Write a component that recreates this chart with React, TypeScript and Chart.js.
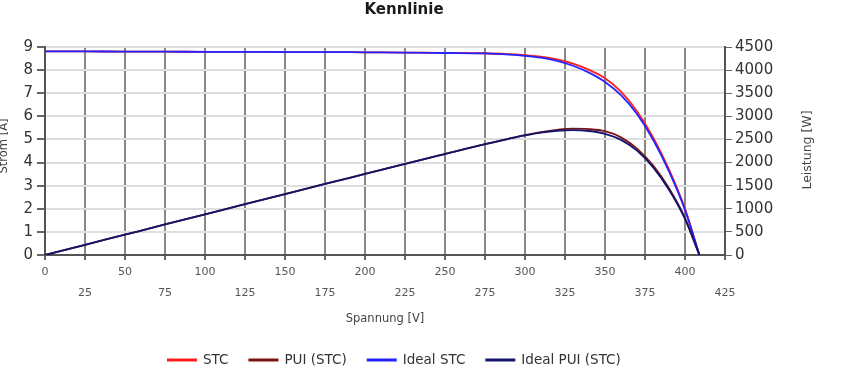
import React, { useEffect, useRef } from 'react';
import { Chart, registerables } from 'chart.js';

Chart.register(...registerables);

const TITLE = 'Kennlinie';
const X_TITLE = 'Spannung [V]';
const Y_TITLE = 'Strom [A]';
const Y1_TITLE = 'Leistung [W]';

const seriesLabels = ['STC', 'PUI (STC)', 'Ideal STC', 'Ideal PUI (STC)'];
const seriesColors = ['#ff1e1e', '#7a1414', '#2323ff', '#14146e'];

const voltages = [0, 25, 50, 75, 100, 125, 150, 175, 200, 225, 250, 275, 290, 300, 310, 320, 330, 340, 350, 360, 370, 380, 390, 400, 409];
const currentSTC = [8.81, 8.81, 8.8, 8.8, 8.79, 8.79, 8.78, 8.78, 8.77, 8.76, 8.75, 8.73, 8.69, 8.65, 8.58, 8.46, 8.28, 8.01, 7.65, 7.07, 6.22, 5.1, 3.7, 2.0, 0];
const powerSTC = [0, 220, 440, 660, 879, 1099, 1317, 1537, 1754, 1971, 2188, 2401, 2520, 2595, 2660, 2707, 2732, 2723, 2678, 2545, 2301, 1938, 1443, 800, 0];
const currentIdeal = [8.81, 8.81, 8.8, 8.8, 8.79, 8.79, 8.78, 8.78, 8.77, 8.76, 8.74, 8.72, 8.67, 8.62, 8.54, 8.4, 8.19, 7.89, 7.49, 6.92, 6.1, 5.0, 3.62, 1.95, 0];
const powerIdeal = [0, 220, 440, 660, 879, 1099, 1317, 1537, 1754, 1971, 2185, 2398, 2514, 2586, 2647, 2688, 2703, 2683, 2622, 2491, 2257, 1900, 1412, 780, 0];

const xTicks = { min: 0, max: 425, step: 25 };
const yTicks = { min: 0, max: 9, step: 1 };
const y1Ticks = { min: 0, max: 4500, step: 500 };

const FONT = '"DejaVu Sans", "Liberation Sans", sans-serif';

const toPoints = (ys: number[]) => voltages.map((v, i) => ({ x: v, y: ys[i] }));

const textPlugin = {
  id: 'customText',
  afterDraw(chart: any) {
    const ctx = chart.ctx as CanvasRenderingContext2D;
    const area = chart.chartArea;
    ctx.save();
    // title
    ctx.font = `bold 15px ${FONT}`;
    ctx.fillStyle = '#1a1a1a';
    ctx.textAlign = 'center';
    ctx.textBaseline = 'middle';
    ctx.fillText(TITLE, 404, 10);
    // x title
    ctx.font = `11.5px ${FONT}`;
    ctx.fillStyle = '#444';
    ctx.fillText(X_TITLE, (area.left + area.right) / 2, 319);
    // y title left
    ctx.save();
    ctx.translate(4, 146);
    ctx.rotate(-Math.PI / 2);
    ctx.font = `11.5px ${FONT}`;
    ctx.fillText(Y_TITLE, 0, 0);
    ctx.restore();
    // y title right
    ctx.save();
    ctx.translate(808, 150);
    ctx.rotate(-Math.PI / 2);
    ctx.font = `12.5px ${FONT}`;
    ctx.fillText(Y1_TITLE, 0, 0);
    ctx.restore();
    // legend
    ctx.font = `13.5px ${FONT}`;
    ctx.textAlign = 'left';
    let x = 167;
    const y = 360;
    chart.data.datasets.forEach((ds: any) => {
      ctx.strokeStyle = ds.borderColor;
      ctx.lineWidth = 3;
      ctx.beginPath();
      ctx.moveTo(x, y);
      ctx.lineTo(x + 30, y);
      ctx.stroke();
      x += 36;
      ctx.fillStyle = '#333';
      ctx.fillText(ds.label, x, y);
      x += ctx.measureText(ds.label).width + 20;
    });
    ctx.restore();
  },
};

export default function App() {
  const ref = useRef<HTMLCanvasElement>(null);
  useEffect(() => {
    const series = [currentSTC, powerSTC, currentIdeal, powerIdeal];
    const axisIds = ['y', 'y1', 'y', 'y1'];
    const orders = [4, 3, 2, 1];
    const chart = new Chart(ref.current as HTMLCanvasElement, {
      type: 'line',
      data: {
        datasets: series.map((s, i) => ({
          label: seriesLabels[i],
          data: toPoints(s),
          borderColor: seriesColors[i],
          backgroundColor: seriesColors[i],
          borderWidth: 1.8,
          pointRadius: 0,
          fill: false,
          cubicInterpolationMode: 'monotone' as const,
          yAxisID: axisIds[i],
          order: orders[i],
        })),
      },
      options: {
        responsive: false,
        animation: false,
        layout: { padding: { top: 47, left: 0, right: 0, bottom: 0 } },
        plugins: {
          legend: { display: false },
          title: { display: false },
          tooltip: { enabled: false },
        },
        scales: {
          x: {
            type: 'linear',
            min: xTicks.min,
            max: xTicks.max,
            border: { color: '#555', width: 2 },
            grid: { color: '#888', lineWidth: 2, tickColor: '#666', tickLength: 5 },
            ticks: {
              stepSize: xTicks.step,
              maxTicksLimit: 100,
              autoSkip: false,
              maxRotation: 0,
              padding: 2,
              color: '#555',
              font: { family: FONT, size: 11, lineHeight: 1.9 },
              callback: (v: any) => (Number(v) % 50 === 0 ? [String(v), ''] : ['', String(v)]),
            },
            afterFit: (s: any) => {
              s.height = 127;
            },
          },
          y: {
            type: 'linear',
            position: 'left',
            min: yTicks.min,
            max: yTicks.max,
            z: -1,
            border: { color: '#555', width: 2 },
            grid: { color: '#dedede', lineWidth: 2, tickColor: '#666', tickLength: 8 },
            ticks: {
              stepSize: yTicks.step,
              padding: 4,
              color: '#333',
              font: { family: FONT, size: 15 },
              callback: (v: any) => String(v),
            },
            afterFit: (s: any) => {
              s.width = 45;
            },
          },
          y1: {
            type: 'linear',
            position: 'right',
            min: y1Ticks.min,
            max: y1Ticks.max,
            z: -1,
            border: { color: '#555', width: 2 },
            grid: { drawOnChartArea: false, tickColor: '#666', tickLength: 7 },
            ticks: {
              stepSize: y1Ticks.step,
              padding: 3,
              color: '#333',
              font: { family: FONT, size: 15 },
              callback: (v: any) => String(v),
            },
            afterFit: (s: any) => {
              s.width = 122;
            },
          },
        },
      },
      plugins: [textPlugin],
    });
    return () => chart.destroy();
  }, []);
  return (
    <div style={{ position: 'absolute', left: 0, top: 0, width: 847, height: 382, background: '#fff' }}>
      <canvas ref={ref} width={847} height={382} style={{ display: 'block' }} />
    </div>
  );
}
